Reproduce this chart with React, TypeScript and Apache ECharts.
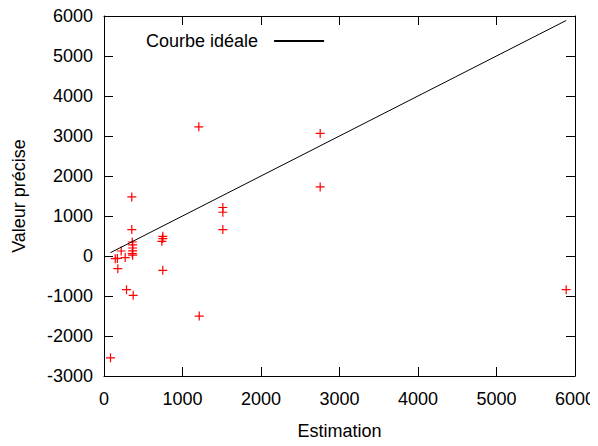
import React, { useEffect, useRef } from "react";
import * as echarts from "echarts";

const estimation = [83, 143, 170, 176, 219, 270, 287, 354, 354, 360, 365, 365, 365, 360, 365, 372, 737, 749, 749, 749, 1208, 1213, 1514, 1514, 1514, 2754, 2754, 5888];
const valeur = [-2545, -66, -60, -316, 125, -40, -842, 1477, 661, 350, 280, 200, 130, 60, 20, -984, 368, 435, 493, -358, 3230, -1502, 1212, 1094, 661, 3065, 1728, -842];
const idealX = [83, 5888];
const xTicks = { min: 0, max: 6000, interval: 1000 };
const yTicks = { min: -3000, max: 6000, interval: 1000 };

const FONT = "'Liberation Sans', Arial, sans-serif";

export default function App() {
  const ref = useRef<HTMLDivElement>(null);
  useEffect(() => {
    if (!ref.current) return;
    const chart = echarts.init(ref.current, undefined, { renderer: "svg" });
    const axisCommon = {
      type: "value" as const,
      splitLine: { show: false },
      axisLine: { show: true, onZero: false, lineStyle: { color: "#000", width: 1 } },
      axisTick: { show: true, inside: true, length: 9, lineStyle: { color: "#000" } },
    };
    const fmt = (v: number) => String(v);
    chart.setOption({
      animation: false,
      textStyle: { fontFamily: FONT },
      grid: { left: 104, right: 22, top: 16, bottom: 70, containLabel: false },
      legend: {
        show: true,
        left: 146,
        top: 32,
        padding: 0,
        align: "right",
        itemWidth: 50,
        itemHeight: 14,
        itemStyle: { opacity: 0 },
        data: ["Courbe idéale"],
        textStyle: { fontSize: 18, color: "#000", fontFamily: FONT, padding: [0, 11, 0, 0] },
      },
      xAxis: [
        {
          ...axisCommon,
          position: "bottom",
          ...xTicks,
          name: "Estimation",
          nameLocation: "middle",
          nameGap: 46,
          nameTextStyle: { fontSize: 18, color: "#000", fontFamily: FONT },
          axisLabel: { fontSize: 18, color: "#000", margin: 14, fontFamily: FONT, formatter: fmt },
        },
        {
          ...axisCommon,
          position: "top",
          ...xTicks,
          axisLabel: { show: false },
        },
      ],
      yAxis: [
        {
          ...axisCommon,
          position: "left",
          ...yTicks,
          name: "Valeur précise",
          nameLocation: "middle",
          nameGap: 76,
          nameTextStyle: { fontSize: 18, color: "#000", fontFamily: FONT },
          axisLabel: { fontSize: 18, color: "#000", margin: 11, fontFamily: FONT, formatter: fmt },
        },
        {
          ...axisCommon,
          position: "right",
          ...yTicks,
          axisLabel: { show: false },
        },
      ],
      series: [
        {
          type: "line",
          name: "Courbe idéale",
          xAxisIndex: 0,
          yAxisIndex: 0,
          data: idealX.map((v) => [v, v]),
          symbol: "none",
          showSymbol: false,
          lineStyle: { color: "#000", width: 1 },
          itemStyle: { color: "#000" },
        },
        {
          type: "scatter",
          name: "points",
          xAxisIndex: 0,
          yAxisIndex: 0,
          data: estimation.map((x, i) => [x, valeur[i]]),
          symbol: "path://M0,5L10,5M5,0L5,10",
          symbolSize: 9,
          itemStyle: { color: "rgba(255,0,0,0)", borderColor: "#ff0000", borderWidth: 1.2, opacity: 1 },
        },
      ],
    });
    return () => chart.dispose();
  }, []);
  return <div ref={ref} style={{ width: 598, height: 446, margin: -8 }} />;
}
